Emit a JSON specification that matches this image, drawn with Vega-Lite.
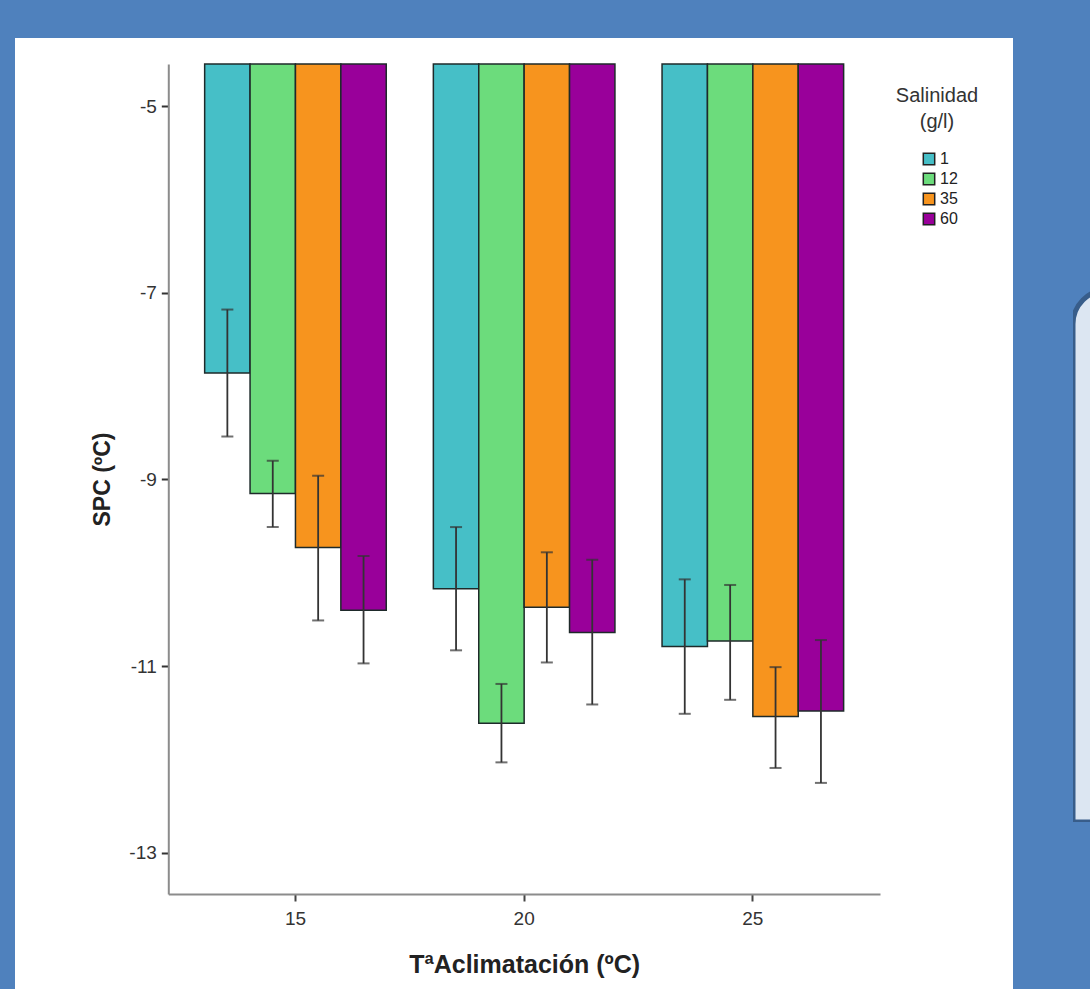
{
  "$schema": "https://vega.github.io/schema/vega-lite/v6.json",
  "background": "#4f81bd",
  "padding": {"left": 15, "top": 38, "right": 0, "bottom": 0},
  "config": {"view": {"stroke": null}, "font": "Liberation Sans"},
  "spacing": 60,
  "hconcat": [
    {
      "width": 998,
      "height": 951,
      "view": {"fill": "white", "stroke": null},
      "data": {"values": [
        {"temp": "15", "sal": "1", "mean": -7.86, "lo": -8.54, "hi": -7.18},
        {"temp": "15", "sal": "12", "mean": -9.15, "lo": -9.51, "hi": -8.8},
        {"temp": "15", "sal": "35", "mean": -9.73, "lo": -10.51, "hi": -8.96},
        {"temp": "15", "sal": "60", "mean": -10.4, "lo": -10.97, "hi": -9.82},
        {"temp": "20", "sal": "1", "mean": -10.17, "lo": -10.83, "hi": -9.51},
        {"temp": "20", "sal": "12", "mean": -11.61, "lo": -12.03, "hi": -11.19},
        {"temp": "20", "sal": "35", "mean": -10.37, "lo": -10.96, "hi": -9.78},
        {"temp": "20", "sal": "60", "mean": -10.64, "lo": -11.41, "hi": -9.86},
        {"temp": "25", "sal": "1", "mean": -10.79, "lo": -11.51, "hi": -10.07},
        {"temp": "25", "sal": "12", "mean": -10.73, "lo": -11.36, "hi": -10.13},
        {"temp": "25", "sal": "35", "mean": -11.54, "lo": -12.09, "hi": -11.01},
        {"temp": "25", "sal": "60", "mean": -11.48, "lo": -12.25, "hi": -10.72}
      ]},
      "encoding": {
        "x": {
          "field": "temp", "type": "nominal", "sort": ["15", "20", "25"],
          "scale": {"range": [153.3, 865], "paddingInner": 0.206, "paddingOuter": 0.159},
          "axis": {
            "title": "TªAclimatación (ºC)", "labelAngle": 0, "offset": -95,
            "domainColor": "#8c8c8c", "domainWidth": 2,
            "tickColor": "#444", "tickWidth": 2, "tickSize": 7,
            "labelFontSize": 19, "labelColor": "#333", "labelPadding": 8,
            "titleFontSize": 25, "titleFontWeight": "bold", "titleColor": "#222", "titlePadding": 24
          }
        },
        "xOffset": {"field": "sal", "type": "nominal", "sort": ["1", "12", "35", "60"], "scale": {"paddingInner": 0, "paddingOuter": 0}}
      },
      "layer": [
        {
          "mark": {"type": "bar", "stroke": "#1e2a2a", "strokeWidth": 1.5, "opacity": 1},
          "encoding": {
            "y": {
              "field": "mean", "type": "quantitative",
              "scale": {"domain": [-13.44, -4.55], "range": [856, 26], "nice": false, "zero": false},
              "axis": {
                "title": "SPC (ºC)", "values": [-13, -11, -9, -7, -5], "grid": false, "offset": -153.3,
                "labelExpr": "datum.value + ''",
                "domainColor": "#8c8c8c", "domainWidth": 2,
                "tickColor": "#333", "tickWidth": 2, "tickSize": 7,
                "labelFontSize": 19, "labelColor": "#333", "labelPadding": 5, "labelFlush": false, "labelOverlap": false,
                "titleFontSize": 23, "titleFontWeight": "bold", "titleColor": "#222", "titlePadding": 14
              }
            },
            "y2": {"datum": -4.55},
            "color": {
              "field": "sal", "type": "nominal", "sort": ["1", "12", "35", "60"],
              "scale": {"domain": ["1", "12", "35", "60"], "range": ["#46bfc7", "#6cdc7c", "#f7941e", "#99009a"]},
              "legend": {
                "orient": "none", "legendX": 881, "legendY": 48, "padding": 0,
                "title": ["Salinidad", "(g/l)"],
                "titleFontSize": 20, "titleFontWeight": "normal", "titleColor": "#333",
                "titleAlign": "center", "titleAnchor": "middle", "titleLineHeight": 26, "titlePadding": 19,
                "labelFontSize": 16, "labelColor": "#222", "labelOffset": 3,
                "symbolType": "square", "symbolSize": 130, "symbolStrokeColor": "#222", "symbolStrokeWidth": 1.5,
                "symbolOpacity": 1, "rowPadding": 2, "symbolOffset": 4
              }
            }
          }
        },
        {
          "mark": {"type": "rule", "color": "#333", "strokeWidth": 1.8},
          "encoding": {"y": {"field": "lo", "type": "quantitative"}, "y2": {"field": "hi"}}
        },
        {
          "mark": {"type": "tick", "orient": "horizontal", "color": "#333", "size": 12, "thickness": 2},
          "encoding": {"y": {"field": "lo", "type": "quantitative"}}
        },
        {
          "mark": {"type": "tick", "orient": "horizontal", "color": "#333", "size": 12, "thickness": 2},
          "encoding": {"y": {"field": "hi", "type": "quantitative"}}
        }
      ]
    },
    {
      "spacing": 10,
      "vconcat": [
        {
          "data": {"values": []},
          "width": 17,
          "height": 242,
          "mark": {"type": "rect", "opacity": 0},
          "encoding": {}
        },
        {
          "data": {"values": [{"box": "nota"}]},
          "width": 17,
          "height": 532,
          "mark": {"type": "rect", "clip": true, "fill": "#dce6f2", "stroke": "#385d8a", "strokeWidth": 5, "cornerRadiusTopLeft": 50},
          "encoding": {
            "x": {"datum": 0, "type": "quantitative", "scale": {"domain": [0, 1]}, "axis": null},
            "x2": {"datum": 4},
            "y": {"datum": 0, "type": "quantitative", "scale": {"domain": [0, 1]}, "axis": null},
            "y2": {"datum": 1}
          }
        }
      ]
    }
  ]
}
